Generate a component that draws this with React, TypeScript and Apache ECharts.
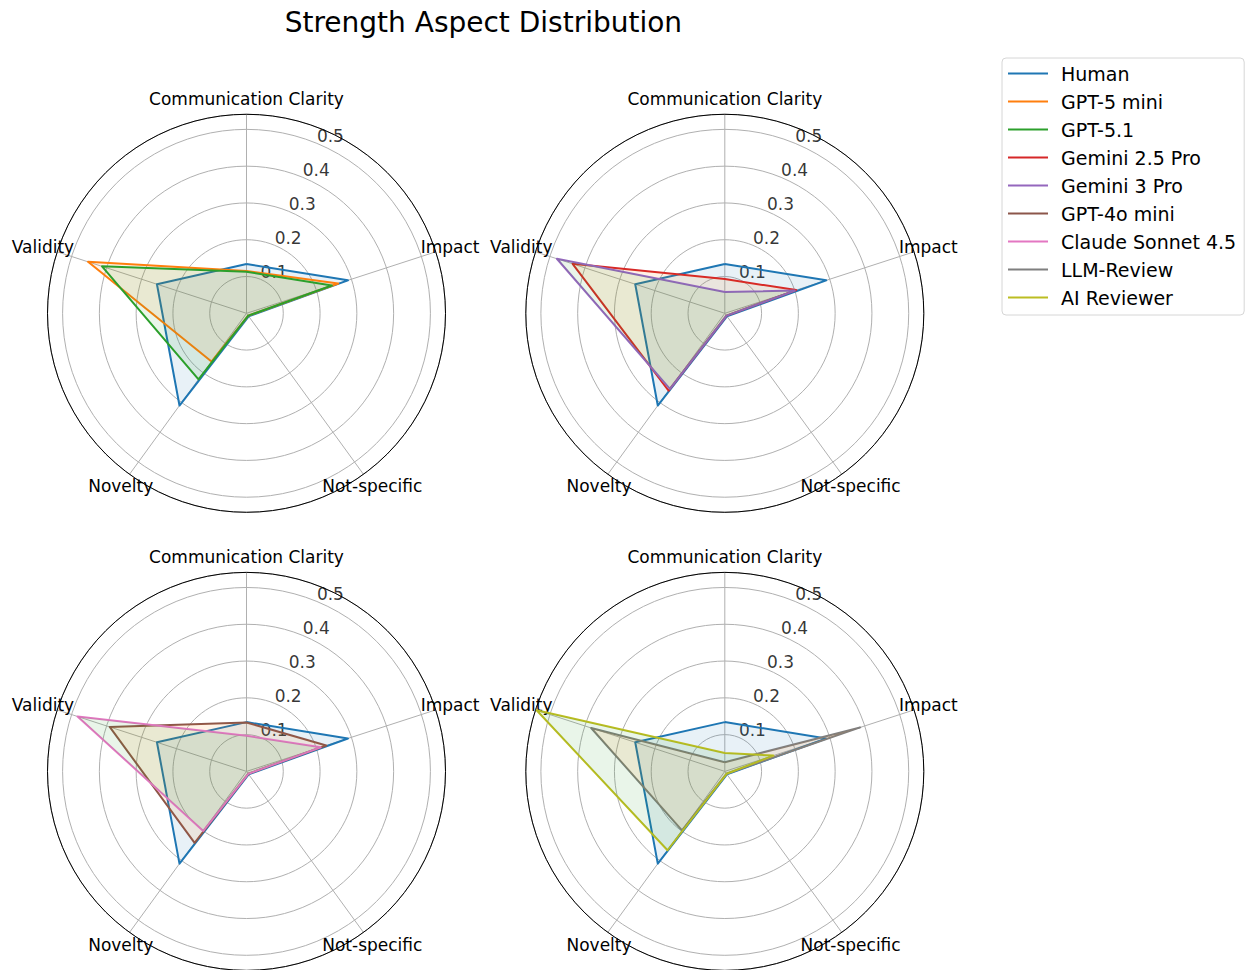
import React, { useEffect, useRef } from "react";
import * as echarts from "echarts";

const FONT = "DejaVu Sans";

const TITLE = "Strength Aspect Distribution";
const ASPECTS = ["Communication Clarity", "Impact", "Not-specific", "Novelty", "Validity"];
const RADIAL_TICKS = [0.1, 0.2, 0.3, 0.4, 0.5];
const R_MAX = 0.541;
const TICK_ANGLE = 22.5;

const MODELS = [
  "Human",
  "GPT-5 mini",
  "GPT-5.1",
  "Gemini 2.5 Pro",
  "Gemini 3 Pro",
  "GPT-4o mini",
  "Claude Sonnet 4.5",
  "LLM-Review",
  "AI Reviewer",
];
const COLORS = [
  "#1f77b4",
  "#ff7f0e",
  "#2ca02c",
  "#d62728",
  "#9467bd",
  "#8c564b",
  "#e377c2",
  "#7f7f7f",
  "#bcbd22",
];
// fills follow each panel's own colour cycle (1st, 2nd, 3rd polygon)
const FILL_CYCLE = ["#1f77b4", "#ff7f0e", "#2ca02c"];

// values in ASPECTS order: Communication Clarity, Impact, Not-specific, Novelty, Validity
const HUMAN = [0.134, 0.29, 0.01, 0.31, 0.256];
const GPT5_MINI = [0.115, 0.262, 0.008, 0.162, 0.453];
const GPT51 = [0.113, 0.244, 0.008, 0.222, 0.413];
const GEMINI25 = [0.093, 0.204, 0.008, 0.26, 0.435];
const GEMINI3 = [0.058, 0.2, 0.008, 0.254, 0.48];
const GPT4O_MINI = [0.133, 0.228, 0.008, 0.24, 0.391];
const CLAUDE = [0.097, 0.212, 0.008, 0.2, 0.483];
const LLM_REVIEW = [0.025, 0.387, 0.008, 0.198, 0.382];
const AI_REVIEWER = [0.05, 0.139, 0.008, 0.265, 0.538];

const VALUES: Record<string, number[]> = {
  Human: HUMAN,
  "GPT-5 mini": GPT5_MINI,
  "GPT-5.1": GPT51,
  "Gemini 2.5 Pro": GEMINI25,
  "Gemini 3 Pro": GEMINI3,
  "GPT-4o mini": GPT4O_MINI,
  "Claude Sonnet 4.5": CLAUDE,
  "LLM-Review": LLM_REVIEW,
  "AI Reviewer": AI_REVIEWER,
};

const PANELS = [
  ["Human", "GPT-5 mini", "GPT-5.1"],
  ["Human", "Gemini 2.5 Pro", "Gemini 3 Pro"],
  ["Human", "GPT-4o mini", "Claude Sonnet 4.5"],
  ["Human", "LLM-Review", "AI Reviewer"],
];

const PANEL_CENTERS: [number, number][] = [
  [246.5, 313.3],
  [724.8, 313.3],
  [246.5, 771.4],
  [724.8, 771.4],
];
const PANEL_RADIUS = 199;

// ECharts radar places indicators counter-clockwise; matplotlib goes clockwise
const RADAR_ORDER = [0, 4, 3, 2, 1];

function buildOption() {
  const polar = PANEL_CENTERS.map((c) => ({ center: c, radius: PANEL_RADIUS }));
  const angleAxis = PANEL_CENTERS.map((_, i) => ({
    polarIndex: i,
    type: "value",
    min: 0,
    max: 360,
    interval: 72,
    startAngle: 90,
    clockwise: true,
    axisLine: { show: true, lineStyle: { color: "#000", width: 1 } },
    axisTick: { show: false },
    axisLabel: { show: false },
    splitLine: { show: true, lineStyle: { color: "#b0b0b0", width: 1 } },
  }));
  const radiusAxis = PANEL_CENTERS.map((_, i) => ({
    polarIndex: i,
    type: "value",
    min: 0,
    max: R_MAX,
    interval: 0.1,
    axisLine: { show: false },
    axisTick: { show: false },
    axisLabel: { show: false },
    splitLine: { show: true, lineStyle: { color: "#b0b0b0", width: 1 } },
  }));
  const radar = PANEL_CENTERS.map((c) => ({
    center: c,
    radius: PANEL_RADIUS,
    startAngle: 90,
    shape: "circle",
    indicator: RADAR_ORDER.map((k) => ({ name: ASPECTS[k], min: 0, max: R_MAX })),
    nameGap: 15,
    axisName: {
      color: "#000",
      fontSize: 17,
      fontFamily: FONT,
      align: "center",
      verticalAlign: "middle",
    },
    axisLine: { show: false },
    splitLine: { show: false },
    splitArea: { show: false },
    axisTick: { show: false },
    axisLabel: { show: false },
    silent: true,
  }));

  const series: any[] = [];
  PANEL_CENTERS.forEach((_, i) => {
    series.push({
      type: "scatter",
      name: "r-ticks",
      coordinateSystem: "polar",
      polarIndex: i,
      data: RADIAL_TICKS.map((t) => [t, TICK_ANGLE]),
      symbolSize: 1,
      itemStyle: { color: "rgba(0,0,0,0)" },
      label: {
        show: true,
        position: "inside",
        align: "left",
        verticalAlign: "bottom",
        offset: [0, 1],
        formatter: (p: any) => Number(p.value[0]).toFixed(1),
        color: "#000",
        fontSize: 17,
        fontFamily: FONT,
      },
      silent: true,
      z: 1,
    });
  });
  PANELS.forEach((models, pi) => {
    models.forEach((m, mi) => {
      const color = COLORS[MODELS.indexOf(m)];
      series.push({
        type: "radar",
        radarIndex: pi,
        name: m,
        symbol: "none",
        silent: true,
        z: 2,
        data: [
          {
            name: m,
            value: RADAR_ORDER.map((k) => VALUES[m][k]),
            itemStyle: { color },
            lineStyle: { color, width: 2 },
            areaStyle: { color: FILL_CYCLE[mi], opacity: 0.1 },
          },
        ],
      });
    });
  });

  return {
    animation: false,
    backgroundColor: "#fff",
    textStyle: { fontFamily: FONT },
    polar,
    angleAxis,
    radiusAxis,
    radar,
    legend: {
      data: MODELS.map((m, i) => ({ name: m, itemStyle: { color: COLORS[i] } })),
      orient: "vertical",
      left: 1002,
      top: 58,
      padding: [6, 8, 8, 6],
      itemGap: 9,
      itemWidth: 40,
      itemHeight: 2,
      icon: "rect",
      selectedMode: false,
      textStyle: { fontSize: 19, color: "#000", fontFamily: FONT, padding: [0, 0, 0, 8] },
      borderColor: "#d6d6d6",
      borderWidth: 1,
      borderRadius: 4,
      backgroundColor: "#fff",
    },
    graphic: [
      {
        type: "text",
        x: 483.4,
        y: 22,
        style: {
          text: TITLE,
          font: `28px '${FONT}'`,
          fill: "#000",
          textAlign: "center",
          textVerticalAlign: "middle",
        },
      },
    ],
    series,
  };
}

export default function App() {
  const ref = useRef<HTMLDivElement>(null);
  useEffect(() => {
    document.body.style.margin = "0";
    if (!ref.current) return;
    const chart = echarts.init(ref.current, null, { renderer: "svg" });
    chart.setOption(buildOption() as any);
    return () => chart.dispose();
  }, []);
  return <div ref={ref} style={{ width: 1247, height: 970 }} />;
}
